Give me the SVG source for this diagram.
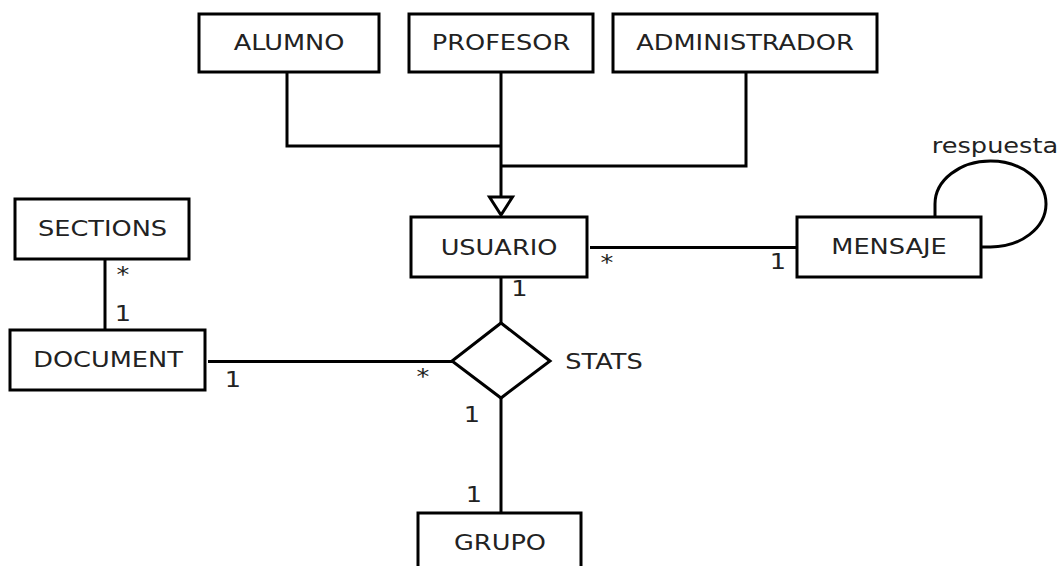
<svg xmlns="http://www.w3.org/2000/svg" width="1058" height="566" viewBox="0 0 1058 566">
<style>
.box{fill:#fff;stroke:#000;stroke-width:3}
.ln{fill:none;stroke:#000;stroke-width:3}
text{font-family:"DejaVu Sans","Liberation Sans",sans-serif;font-size:20.5px;fill:#222;text-anchor:middle}
</style>
<rect width="1058" height="566" fill="#fff"/>
<g id="connectors">
<path class="ln" d="M287,72 V146 H501"/>
<path class="ln" d="M501,72 V197"/>
<path class="ln" d="M746,72 V166 H501"/>
<polygon class="ln" points="489.5,197 512.5,197 501,215"/>
<path class="ln" d="M105,259 V330"/>
<path class="ln" d="M590,247.5 H797"/>
<path class="ln" d="M501,277 V323"/>
<path class="ln" d="M208,361.5 H452"/>
<path class="ln" d="M501,398 V513"/>
<path class="ln" d="M935,217 V204 A55.5,43 0 1 1 990,247 H981"/>
<text transform="translate(123,282) scale(1.25,1)">*</text>
<text transform="translate(123,321) scale(1.25,1)">1</text>
<text transform="translate(607,270) scale(1.25,1)">*</text>
<text transform="translate(519.5,295.5) scale(1.25,1)">1</text>
<text transform="translate(778,268.5) scale(1.25,1)">1</text>
<text transform="translate(233,387) scale(1.25,1)">1</text>
<text transform="translate(423,384) scale(1.25,1)">*</text>
<text transform="translate(472,422) scale(1.25,1)">1</text>
<text transform="translate(474,502) scale(1.25,1)">1</text>
<text transform="translate(995,153) scale(1.25,1)">respuesta</text>
</g>
<g id="alumno"><rect class="box" x="199" y="14" width="180" height="58"/><text transform="translate(289,49.5) scale(1.25,1)">ALUMNO</text></g>
<g id="profesor"><rect class="box" x="409" y="14" width="184" height="58"/><text transform="translate(501,49.5) scale(1.25,1)">PROFESOR</text></g>
<g id="administrador"><rect class="box" x="613" y="14" width="264" height="58"/><text transform="translate(745,49.5) scale(1.25,1)">ADMINISTRADOR</text></g>
<g id="usuario"><rect class="box" x="411" y="217" width="176" height="60"/><text transform="translate(499,255) scale(1.25,1)">USUARIO</text></g>
<g id="mensaje"><rect class="box" x="797" y="217" width="184" height="60"/><text transform="translate(889,254) scale(1.25,1)">MENSAJE</text></g>
<g id="sections"><rect class="box" x="15" y="199" width="174" height="60"/><text transform="translate(102.5,236) scale(1.25,1)">SECTIONS</text></g>
<g id="document"><rect class="box" x="10" y="330" width="195" height="60"/><text transform="translate(108,367) scale(1.25,1)">DOCUMENT</text></g>
<g id="stats"><polygon class="box" points="501,323 550,361 501,398 452,361"/><text transform="translate(604,369) scale(1.25,1)">STATS</text></g>
<g id="grupo"><rect class="box" x="418" y="513" width="163" height="70"/><text transform="translate(500,550) scale(1.25,1)">GRUPO</text></g>
</svg>
